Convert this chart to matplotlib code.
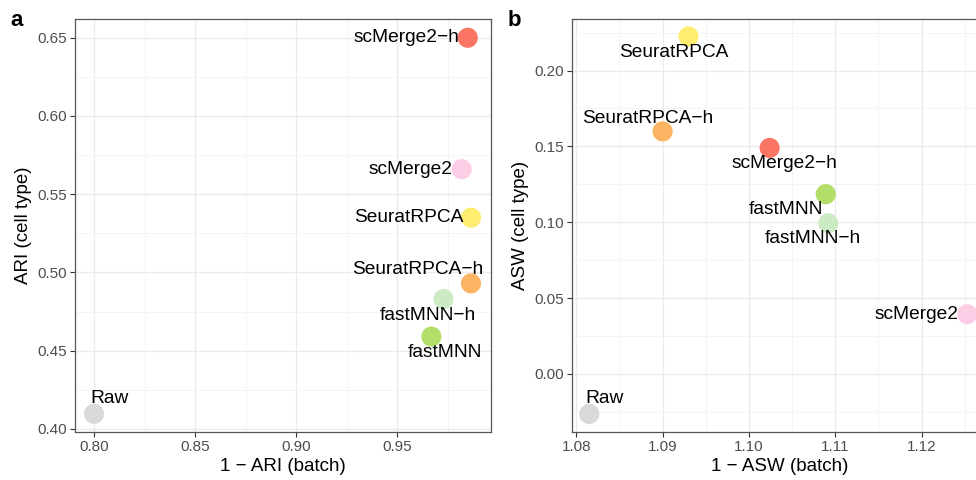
import matplotlib
matplotlib.use("Agg")
import matplotlib.pyplot as plt
from matplotlib.ticker import MultipleLocator

plt.rcParams['font.family'] = ['Liberation Sans', 'DejaVu Sans']

# data
methods = ["scMerge2\u2212h", "scMerge2", "SeuratRPCA", "SeuratRPCA\u2212h",
           "fastMNN\u2212h", "fastMNN", "Raw"]
colors = ["#FB7565", "#FCCDE5", "#FFED6F", "#FDB462", "#CCEBC5", "#B3DE69", "#D9D9D9"]

ari_batch = [0.985, 0.982, 0.9866, 0.9866, 0.973, 0.967, 0.800]
ari_cell = [0.650, 0.566, 0.535, 0.493, 0.483, 0.459, 0.4096]

asw_batch = [1.1024, 1.1253, 1.0930, 1.0900, 1.1092, 1.1089, 1.0815]
asw_cell = [0.149, 0.0394, 0.2225, 0.1599, 0.0993, 0.1185, -0.0264]

# label offsets in pixels (dx, dy, ha)
offs_a = [(-8, 0, 'right'), (-9, 0, 'right'), (-8, 0, 'right'), (-53, 14, 'center'),
          (-16, -16, 'center'), (14, -16, 'center'), (16, 15, 'center')]
offs_b = [(15, -16, 'center'), (-9, 0, 'right'), (-15, -16, 'center'), (-15, 13, 'center'),
          (-15, -15, 'center'), (-40, -15, 'center'), (15, 15, 'center')]

fig = plt.figure(figsize=(9.76, 4.8), dpi=100)
ax1 = fig.add_axes([75 / 976, 48 / 480, 416 / 976, 413 / 480])
ax2 = fig.add_axes([572 / 976, 48 / 480, 416 / 976, 413 / 480])


def style(ax, xmaj, ymaj):
    ax.xaxis.set_major_locator(MultipleLocator(xmaj))
    ax.xaxis.set_minor_locator(MultipleLocator(xmaj / 2))
    ax.yaxis.set_major_locator(MultipleLocator(ymaj))
    ax.yaxis.set_minor_locator(MultipleLocator(ymaj / 2))
    ax.grid(which='major', color='#EBEBEB', lw=1.0, zorder=0)
    ax.grid(which='minor', color='#F3F3F3', lw=0.6, zorder=0)
    ax.set_axisbelow(True)
    for s in ax.spines.values():
        s.set_color('#555555')
        s.set_linewidth(0.9)
    ax.tick_params(which='major', length=3.5, width=0.8, color='#333333',
                   labelsize=11, labelcolor='#4D4D4D', pad=2)
    ax.tick_params(which='minor', length=0)


def draw(ax, xs, ys, offs):
    ax.scatter(xs, ys, s=210, c=colors, edgecolors='none', zorder=3, clip_on=False)
    for name, x, y, (dx, dy, ha) in zip(methods, xs, ys, offs):
        ax.annotate(name, (x, y), xytext=(dx, dy), textcoords='offset pixels',
                    ha=ha, va='center', fontsize=13.8, color='black', zorder=4)


style(ax1, 0.05, 0.05)
draw(ax1, ari_batch, ari_cell, offs_a)
ax1.set_xlim(0.7906, 0.9965)
ax1.set_ylim(0.398, 0.662)
ax1.xaxis.set_major_formatter(plt.FormatStrFormatter('%.2f'))
ax1.yaxis.set_major_formatter(plt.FormatStrFormatter('%.2f'))
ax1.set_xlabel("1 \u2212 ARI (batch)", fontsize=13.5, labelpad=3)
ax1.set_ylabel("ARI (cell type)", fontsize=13.5, labelpad=4)

style(ax2, 0.01, 0.05)
draw(ax2, asw_batch, asw_cell, offs_b)
ax2.set_xlim(1.0795, 1.1277)
ax2.set_ylim(-0.0383, 0.234)
ax2.xaxis.set_major_formatter(plt.FormatStrFormatter('%.2f'))
ax2.yaxis.set_major_formatter(plt.FormatStrFormatter('%.2f'))
ax2.set_xlabel("1 \u2212 ASW (batch)", fontsize=13.5, labelpad=3)
ax2.set_ylabel("ASW (cell type)", fontsize=13.5, labelpad=4)

fig.text(10 / 976, 1 - 20 / 480, "a", fontsize=16, fontweight='bold', va='center')
fig.text(508 / 976, 1 - 20 / 480, "b", fontsize=16, fontweight='bold', va='center')

fig.savefig("out.png", dpi=100)
